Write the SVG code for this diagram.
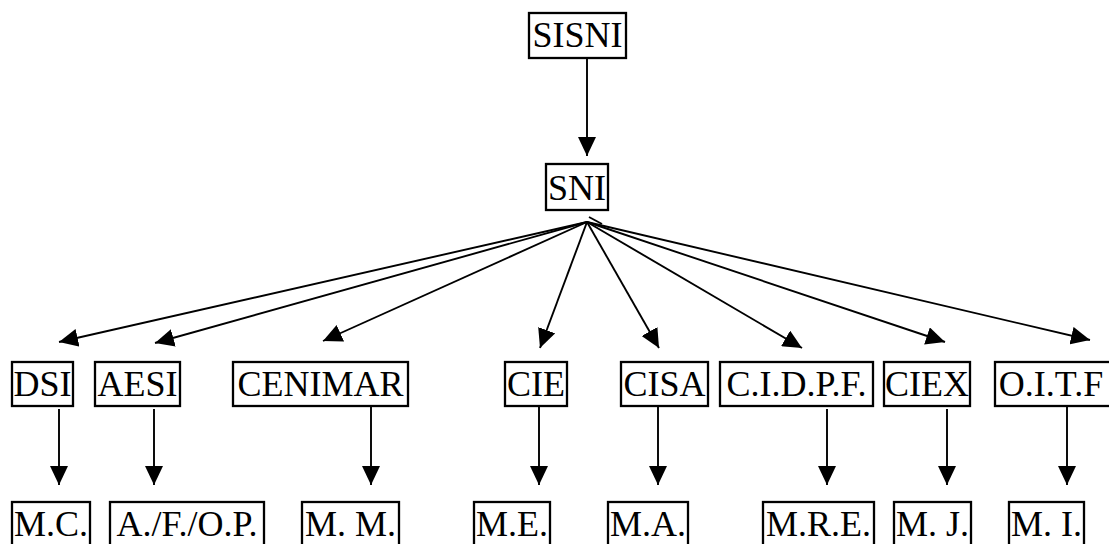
<svg xmlns="http://www.w3.org/2000/svg" width="1109" height="544" viewBox="0 0 1109 544">
<style>
.box{fill:#fff;stroke:#000;stroke-width:2.3}
.t{font-size:36px;fill:#000;text-anchor:middle}
.c{stroke:#000;stroke-width:1.9;fill:none;marker-end:url(#ah)}
</style>
<defs>
<marker id="ah" markerUnits="userSpaceOnUse" markerWidth="19" markerHeight="18" refX="19" refY="9" orient="auto" viewBox="0 0 19 18">
<path d="M0,0 L19,9 L0,18 z" fill="#000"/>
</marker>
</defs>
<rect width="1109" height="544" fill="#fff"/>
<g id="connectors">
<line class="c" x1="587" y1="59" x2="587" y2="156"/>
<line class="c" x1="587" y1="222" x2="59" y2="342"/>
<line class="c" x1="587" y1="222" x2="155" y2="343"/>
<line class="c" x1="587" y1="222" x2="323" y2="341"/>
<line class="c" x1="587" y1="222" x2="540" y2="348"/>
<line class="c" x1="587" y1="222" x2="659" y2="348"/>
<line class="c" x1="587" y1="222" x2="802" y2="348"/>
<line class="c" x1="587" y1="222" x2="945" y2="342"/>
<line class="c" x1="587" y1="222" x2="1090" y2="340"/>
<line x1="589" y1="217" x2="602" y2="224" stroke="#000" stroke-width="1.9"/>
<line class="c" x1="59" y1="409" x2="59" y2="485"/>
<line class="c" x1="154" y1="409" x2="154" y2="485"/>
<line class="c" x1="371" y1="407" x2="371" y2="485"/>
<line class="c" x1="539" y1="407" x2="539" y2="485"/>
<line class="c" x1="658" y1="407" x2="658" y2="485"/>
<line class="c" x1="827" y1="409" x2="827" y2="485"/>
<line class="c" x1="947" y1="409" x2="947" y2="485"/>
<line class="c" x1="1067" y1="407" x2="1067" y2="485"/>
</g>
<g font-family="'Liberation Serif', Tinos, 'Times New Roman', 'DejaVu Serif', serif">
<g id="SISNI"><rect class="box" x="529" y="13" width="97" height="45"/><text class="t" x="577.5" y="47">SISNI</text></g>
<g id="SNI"><rect class="box" x="546" y="164" width="62" height="46"/><text class="t" x="577" y="200">SNI</text></g>
<g id="DSI"><rect class="box" x="12" y="362" width="61" height="44"/><text class="t" x="42.5" y="396">DSI</text></g>
<g id="AESI"><rect class="box" x="95" y="362" width="85" height="44"/><text class="t" x="137.5" y="396">AESI</text></g>
<g id="CENIMAR"><rect class="box" x="233" y="362" width="175" height="44"/><text class="t" x="320.5" y="396">CENIMAR</text></g>
<g id="CIE"><rect class="box" x="505" y="362" width="62" height="44"/><text class="t" x="536" y="396">CIE</text></g>
<g id="CISA"><rect class="box" x="621" y="362" width="87" height="44"/><text class="t" x="664.5" y="396">CISA</text></g>
<g id="CIDPF"><rect class="box" x="720" y="362" width="153" height="44"/><text class="t" x="796.5" y="396">C.I.D.P.F.</text></g>
<g id="CIEX"><rect class="box" x="884" y="362" width="86" height="44"/><text class="t" x="927" y="396">CIEX</text></g>
<g id="OITF"><rect class="box" x="995" y="362" width="118" height="44"/><text class="t" x="1051" y="396">O.I.T.F</text></g>
<g id="MC"><rect class="box" x="12" y="502" width="78" height="46"/><text class="t" x="51" y="536">M.C.</text></g>
<g id="AFOP"><rect class="box" x="110" y="502" width="154" height="46"/><text class="t" x="187" y="536">A./F./O.P.</text></g>
<g id="MM"><rect class="box" x="302" y="502" width="97" height="46"/><text class="t" x="350.5" y="536">M. M.</text></g>
<g id="ME"><rect class="box" x="474" y="502" width="76" height="46"/><text class="t" x="512" y="536">M.E.</text></g>
<g id="MA"><rect class="box" x="608" y="502" width="80" height="46"/><text class="t" x="648" y="536">M.A.</text></g>
<g id="MRE"><rect class="box" x="763" y="502" width="111" height="46"/><text class="t" x="818.5" y="536">M.R.E.</text></g>
<g id="MJ"><rect class="box" x="894" y="502" width="77" height="46"/><text class="t" x="932.5" y="536">M. J.</text></g>
<g id="MI"><rect class="box" x="1009" y="502" width="75" height="46"/><text class="t" x="1046.5" y="536">M. I.</text></g>
</g>
</svg>
